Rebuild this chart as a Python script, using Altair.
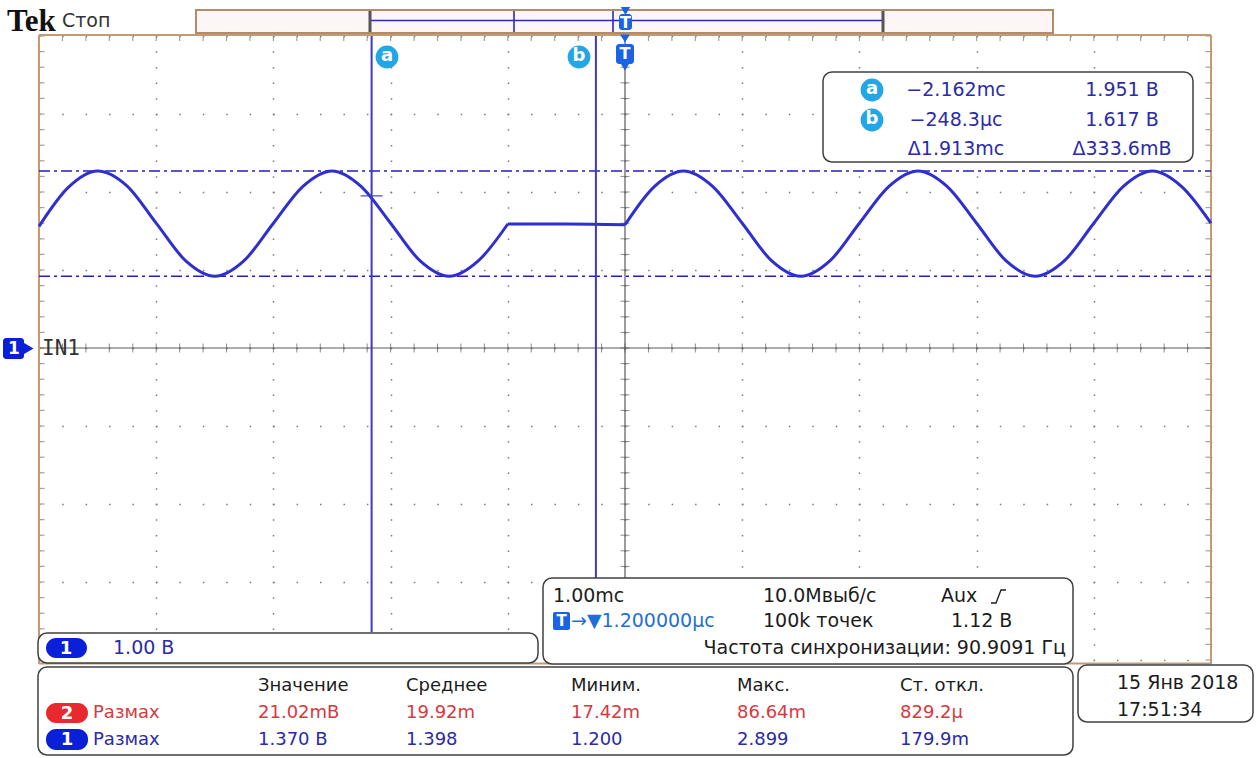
import altair as alt
import pandas as pd

# ---------------- values read from the screen ----------------
# channel 1 trace: time in ms (1.00 ms/div), level in volts (1.00 V/div)
pre_t = [-5.0, -4.75, -4.5, -4.25, -4.0, -3.75, -3.5, -3.25, -3.0, -2.75, -2.5,
         -2.25, -2.0, -1.75, -1.5, -1.25, -1.0]
pre_v = [1.56, 2.06, 2.27, 2.08, 1.60, 1.12, 0.92, 1.12, 1.60, 2.07, 2.27,
         2.07, 1.60, 1.12, 0.92, 1.12, 1.59]
flat_t = [-1.0, -0.5, 0.0]
flat_v = [1.59, 1.59, 1.58]
post_t = [0.0, 0.25, 0.5, 0.75, 1.0, 1.25, 1.5, 1.75, 2.0, 2.25, 2.5, 2.75,
          3.0, 3.25, 3.5, 3.75, 4.0, 4.25, 4.5, 4.75, 5.0]
post_v = [1.58, 2.07, 2.27, 2.07, 1.60, 1.12, 0.92, 1.12, 1.60, 2.07, 2.27, 2.07,
          1.60, 1.12, 0.92, 1.12, 1.60, 2.07, 2.27, 2.07, 1.60]

level_v = [2.27, 0.92]                 # dash-dot max / min lines
cursor_names = ["a", "b"]
cursor_t = [-2.162, -0.2483]           # ms
cursor_v = [1.951, 1.617]              # V

readout_time = ["\u22122.162mс", "\u2212248.3µс", "Δ1.913mс"]
readout_volt = ["1.951 В", "1.617 В", "Δ333.6mВ"]

meas_headers = ["Значение", "Среднее", "Миним.", "Макс.", "Ст. откл."]
meas_ch2 = ["21.02mВ", "19.92m", "17.42m", "86.64m", "829.2µ"]
meas_ch1 = ["1.370 В", "1.398", "1.200", "2.899", "179.9m"]
meas_name = "Размах"

scale_text = "1.00 В"
time_row1 = ["1.00mс", "10.0Mвыб/с", "Aux"]
time_row2 = ["→▼1.200000µс", "100k точек", "1.12 В"]
trigger_freq = "Частота синхронизации: 90.9091 Гц"
date_text = ["15 Янв  2018", "17:51:34"]

# ---------------- layout helpers (screen pixels -> divisions) ----------------
X0, Y0, DIVX, DIVY = 39.0, 348.0, 117.2, 78.0


def dx(px):
    return (px - X0) / DIVX - 5.0


def dy(py):
    return (Y0 - py) / DIVY


TRACE = "#2f2fcf"
CURSOR = "#3a3ac4"
LEVEL = "#2121b5"
TEXT_BLUE = "#2b2ba6"
TEXT_RED = "#d63a3e"
CYAN = "#22a6e6"
TBLUE = "#1b63e3"
PILL_BLUE = "#0a1fd8"
PILL_RED = "#e62a2e"
TAN = "#c49a74"
GRID = "#7a7a7a"
AXIS = "#5a5a5a"
BOXS = "#404040"
INK = "#1c1c1c"

XS = alt.Scale(domain=[-5, 5], nice=False, zero=False)
YS = alt.Scale(domain=[-4, 4], nice=False, zero=False)
X_AX = alt.Axis(values=list(range(-5, 6)), grid=True, gridDash=[1.5, 14.1], gridDashOffset=0.75,
                gridColor=GRID, gridWidth=1.5, labels=False, ticks=False, domain=False, title=None)
Y_AX = alt.Axis(values=list(range(-4, 5)), grid=True, gridDash=[1.5, 21.94], gridDashOffset=0.75,
                gridColor=GRID, gridWidth=1.5, labels=False, ticks=False, domain=False, title=None)


def exy(xf="x", yf="y"):
    return dict(x=alt.X(f"{xf}:Q", scale=XS, axis=X_AX), y=alt.Y(f"{yf}:Q", scale=YS, axis=Y_AX))


def boxes(rows, **mark):
    df = pd.DataFrame([{"x": dx(a), "x2": dx(c), "y": dy(b), "y2": dy(d)} for a, b, c, d in rows])
    return alt.Chart(df).mark_rect(**mark).encode(**exy(), x2=alt.X2("x2"), y2=alt.Y2("y2"))


def segs(rows, **mark):
    df = pd.DataFrame([{"x": dx(a), "y": dy(b), "x2": dx(c), "y2": dy(d)} for a, b, c, d in rows])
    return alt.Chart(df).mark_rule(**mark).encode(**exy(), x2=alt.X2("x2"), y2=alt.Y2("y2"))


def texts(rows, align="left", font="DejaVu Sans", size=18, weight="normal"):
    df = pd.DataFrame([{"x": dx(a), "y": dy(b), "t": s, "c": col} for a, b, s, col in rows])
    return alt.Chart(df).mark_text(align=align, baseline="middle", font=font, fontSize=size,
                                   fontWeight=weight).encode(
        **exy(), text="t:N", color=alt.Color("c:N", scale=None))


def symbols(rows, shape, size, color):
    df = pd.DataFrame([{"x": dx(a), "y": dy(b)} for a, b in rows])
    return alt.Chart(df).mark_point(shape=shape, size=size, filled=True, opacity=1,
                                    color=color, strokeWidth=0).encode(**exy())


def circles(rows, size, color):
    df = pd.DataFrame([{"x": dx(a), "y": dy(b)} for a, b in rows])
    return alt.Chart(df).mark_circle(size=size, color=color, opacity=1).encode(**exy())


# ---------------- graticule ----------------
minor_x = [round(-5 + i * 0.2, 2) for i in range(51)]
minor_y = [round(-4 + i * 0.2, 2) for i in range(41)]

grid_base = alt.Chart(pd.DataFrame({"x": [0.0], "y": [0.0]})).mark_point(opacity=0).encode(**exy())

center_lines = alt.Chart(pd.DataFrame({"x": [0.0, -5.0], "y": [4.0, 0.0], "x2": [0.0, 5.0],
                                       "y2": [-4.0, 0.0]})).mark_rule(
    color=AXIS, strokeWidth=1.2).encode(**exy(), x2=alt.X2("x2"), y2=alt.Y2("y2"))

hticks = alt.Chart(pd.DataFrame({"x": minor_x, "y": [0.0] * len(minor_x)})).mark_tick(
    orient="vertical", size=9, thickness=1, color=AXIS).encode(**exy())
vticks = alt.Chart(pd.DataFrame({"x": [0.0] * len(minor_y), "y": minor_y})).mark_tick(
    orient="horizontal", size=9, thickness=1, color=AXIS).encode(**exy())
top_ticks = alt.Chart(pd.DataFrame({"x": minor_x, "y": [4.0] * len(minor_x)})).mark_tick(
    orient="vertical", size=4, thickness=1.2, color=GRID, yOffset=3).encode(**exy())
left_ticks = alt.Chart(pd.DataFrame({"x": [-5.0] * len(minor_y), "y": minor_y})).mark_tick(
    orient="horizontal", size=5, thickness=1.2, color=GRID, xOffset=3).encode(**exy())
right_ticks = alt.Chart(pd.DataFrame({"x": [5.0] * len(minor_y), "y": minor_y})).mark_tick(
    orient="horizontal", size=5, thickness=1.2, color=GRID, xOffset=-3).encode(**exy())

border = segs([(39, 35, 1211, 35), (39, 663.5, 1211, 663.5), (39, 35, 39, 664), (1211, 35, 1211, 664)],
              color=TAN, strokeWidth=2)

# ---------------- trace, levels, cursors ----------------
trace_df = pd.concat([
    pd.DataFrame({"x": pre_t, "y": pre_v, "seg": "pre"}),
    pd.DataFrame({"x": flat_t, "y": flat_v, "seg": "flat"}),
    pd.DataFrame({"x": post_t, "y": post_v, "seg": "post"}),
])
trace = alt.Chart(trace_df).mark_line(interpolate="monotone", strokeWidth=3, color=TRACE).encode(
    **exy(), detail="seg:N")

levels = alt.Chart(pd.DataFrame({"x": [-5.0] * 2, "x2": [5.0] * 2, "y": level_v})).mark_rule(
    color=LEVEL, strokeWidth=1.6, strokeDash=[11, 4, 3, 4]).encode(**exy(), x2=alt.X2("x2"))

cur_df = pd.DataFrame({"x": cursor_t, "y": cursor_v, "top": [4.0, 4.0],
                       "bottom": [dy(632), dy(578)], "name": cursor_names})
cursor_lines = alt.Chart(cur_df).mark_rule(color=CURSOR, strokeWidth=2).encode(
    **exy("x", "top"), y2=alt.Y2("bottom"))
cursor_ticks = alt.Chart(cur_df).transform_filter(alt.datum.name == "a").mark_tick(
    orient="horizontal", size=22, thickness=1.6, color=CURSOR).encode(**exy())

# ---------------- top status bar ----------------
tek = texts([(7, 22, "Tek", "#111111")], font="Liberation Serif", size=31, weight="bold")
stop = texts([(62, 21, "Стоп", "#333333")], size=19)
bar = boxes([(196, 10, 1053, 33)], fill="#fdf6f6", stroke="#b38b67", strokeWidth=2)
bar_lines = segs([(370, 20.5, 883, 20.5), (514, 11, 514, 32), (613, 11, 613, 32)],
                 color="#2a2ac0", strokeWidth=1.6)
bar_brackets = segs([(370, 11, 370, 32), (883, 11, 883, 32)], color="#555555", strokeWidth=3)
bar_t = boxes([(619, 14, 632, 30), (616, 44, 634, 64)], fill=TBLUE, cornerRadius=3)
bar_tri = symbols([(625.5, 11), (625, 38.5)], "triangle-down", 90, TBLUE)
shield_tip = symbols([(625, 65.5)], "triangle-down", 150, TBLUE)
t_letters = texts([(625.5, 22.5, "T", "white"), (625, 54, "T", "white")], align="center", size=16,
                  weight="bold")

# cursor badges on the graticule
badges_top = circles([(387, 57), (579, 57)], 520, CYAN)
badge_top_txt = texts([(387, 56, cursor_names[0], "white"), (579, 56, cursor_names[1], "white")],
                      align="center", size=18, weight="bold")

# ---------------- IN1 marker ----------------
in1_box = boxes([(3, 338, 24, 359)], fill=PILL_BLUE, cornerRadius=3)
in1_tri = symbols([(27.5, 348.5)], "triangle-right", 190, PILL_BLUE)
in1_num = texts([(14, 348.5, "1", "white")], align="center", size=17, weight="bold")
in1_lbl = texts([(42, 349, "IN1", "#333333")], font="DejaVu Sans Mono", size=21)

# ---------------- panels ----------------
panels = boxes([(823, 72, 1193, 162), (38, 633, 538, 663), (543, 578, 1073, 664),
                (38, 667, 1073, 755), (1078, 665, 1253, 722)],
               fill="white", stroke=BOXS, strokeWidth=1.5, cornerRadius=9)

badges_box = circles([(872, 90), (872, 120)], 520, CYAN)
badge_box_txt = texts([(872, 89, cursor_names[0], "white"), (872, 119, cursor_names[1], "white")],
                      align="center", size=18, weight="bold")
readout_l = texts([(956, 90 + 29.5 * i, s, TEXT_BLUE) for i, s in enumerate(readout_time)],
                  align="center", size=19)
readout_r = texts([(1122, 90 + 29.5 * i, s, TEXT_BLUE) for i, s in enumerate(readout_volt)],
                  align="center", size=19)

pills_b = boxes([(46, 638, 87, 658), (46, 729, 88, 750)], fill=PILL_BLUE, cornerRadius=10)
pills_r = boxes([(46, 703, 88, 723)], fill=PILL_RED, cornerRadius=10)
pill_txt = texts([(66, 648.5, "1", "white"), (67, 713.5, "2", "white"), (67, 740, "1", "white")],
                 align="center", size=18, weight="bold")
scale_lbl = texts([(113, 648, scale_text, TEXT_BLUE)], size=19)

tb_icon = boxes([(553, 612, 570, 630)], fill=TBLUE, cornerRadius=2)
tb_icon_t = texts([(561.5, 621, "T", "white")], align="center", size=15, weight="bold")
tb_cols = [553, 763, 941]
tb_row1 = texts([(tb_cols[i], 596, s, INK) for i, s in enumerate(time_row1)], size=19)
tb_row2 = texts([(571, 621, time_row2[0], "#1f6fd8"), (763, 621, time_row2[1], INK),
                 (951, 621, time_row2[2], INK)], size=19)
tb_row3 = texts([(1066, 648, trigger_freq, INK)], align="right", size=19)
edge = alt.Chart(pd.DataFrame({"x": [dx(991), dx(996), dx(1001), dx(1006)],
                               "y": [dy(603), dy(603), dy(590), dy(590)]})).mark_line(
    color=INK, strokeWidth=1.3).encode(**exy())

meas_x = [258, 406, 571, 737, 900]
meas_head = texts([(meas_x[i], 686, s, INK) for i, s in enumerate(meas_headers)], size=18)
meas_r = texts([(93, 713, meas_name, TEXT_RED)] +
               [(meas_x[i], 713, s, TEXT_RED) for i, s in enumerate(meas_ch2)], size=18)
meas_b = texts([(93, 740, meas_name, TEXT_BLUE)] +
               [(meas_x[i], 740, s, TEXT_BLUE) for i, s in enumerate(meas_ch1)], size=18)

date_lbl = texts([(1117, 683, date_text[0], INK), (1117, 710, date_text[1], INK)], size=19)

chart = alt.layer(
    grid_base, hticks, vticks, top_ticks, left_ticks, right_ticks, center_lines, border,
    levels, trace, cursor_lines, cursor_ticks,
    bar, bar_lines, bar_brackets, bar_t, bar_tri, shield_tip, t_letters, tek, stop,
    badges_top, badge_top_txt, in1_box, in1_tri, in1_num, in1_lbl,
    panels, badges_box, badge_box_txt, readout_l, readout_r, pills_b, pills_r, pill_txt, scale_lbl,
    tb_icon, tb_icon_t, tb_row1, tb_row2, tb_row3, edge,
    meas_head, meas_r, meas_b, date_lbl,
).properties(
    width=1172, height=624,
    autosize=alt.AutoSizeParams(type="none"),
    padding={"left": 39, "top": 36, "right": 47, "bottom": 98},
    background="white",
).configure_view(stroke=None)

chart.save("out.html", embed_options={"renderer": "svg", "actions": False})
